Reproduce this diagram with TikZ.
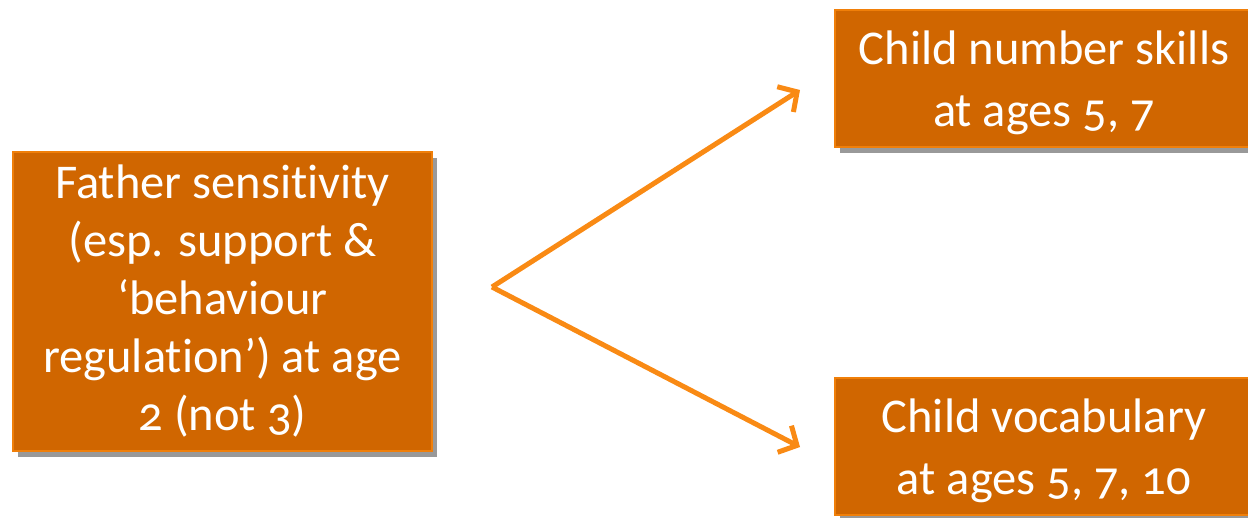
\documentclass[tikz,border=0pt]{standalone}
\usepackage{fontspec}
\setmainfont{Carlito}[Numbers=OldStyle, Ligatures=NoCommon]
\usetikzlibrary{arrows.meta,shadows}
\definecolor{boxfill}{HTML}{D06600}
\definecolor{boxline}{HTML}{F07F09}
\definecolor{arrowc}{HTML}{F98A14}
\tikzset{
  obox/.style={draw=boxline, line width=1.5pt, fill=boxfill, text=white, align=center,
    inner sep=0pt, font=\fontsize{48.5}{58}\selectfont,
    drop shadow={shadow xshift=5pt, shadow yshift=-6pt, fill=black, opacity=0.4}},
  otext/.style={text=white, align=center, inner sep=0pt, font=\fontsize{48.5}{62}\selectfont},
  link/.style={draw=arrowc, line width=5pt, -{Straight Barb[length=14pt,width=30pt,line width=5pt]}}
}
\begin{document}
\begin{tikzpicture}[x=1pt,y=-1pt]
\useasboundingbox (0,0) rectangle (1248,517);
\node[obox, minimum width=419pt, minimum height=299pt] (father) at (222.5,301.5)
  {Father sensitivity\\(esp. support \&\\‘behaviour\\regulation’) at age\\2 (not 3)};
\node[obox, minimum width=418pt, minimum height=137pt] (number) at (1044,78.5) {};
\node[otext] (numbertext) at (1044,83) {Child number skills\\at ages 5, 7};
\node[obox, minimum width=418pt, minimum height=137pt] (vocab) at (1044,446.5) {};
\node[otext] (vocabtext) at (1044,451) {Child vocabulary\\at ages 5, 7, 10};
\coordinate (apex) at (492,287);
\coordinate (tipA) at (800,90);
\coordinate (tipB) at (800,447);
\draw[link] (apex) -- (tipA);
\draw[link] (apex) -- (tipB);
\end{tikzpicture}
\end{document}
